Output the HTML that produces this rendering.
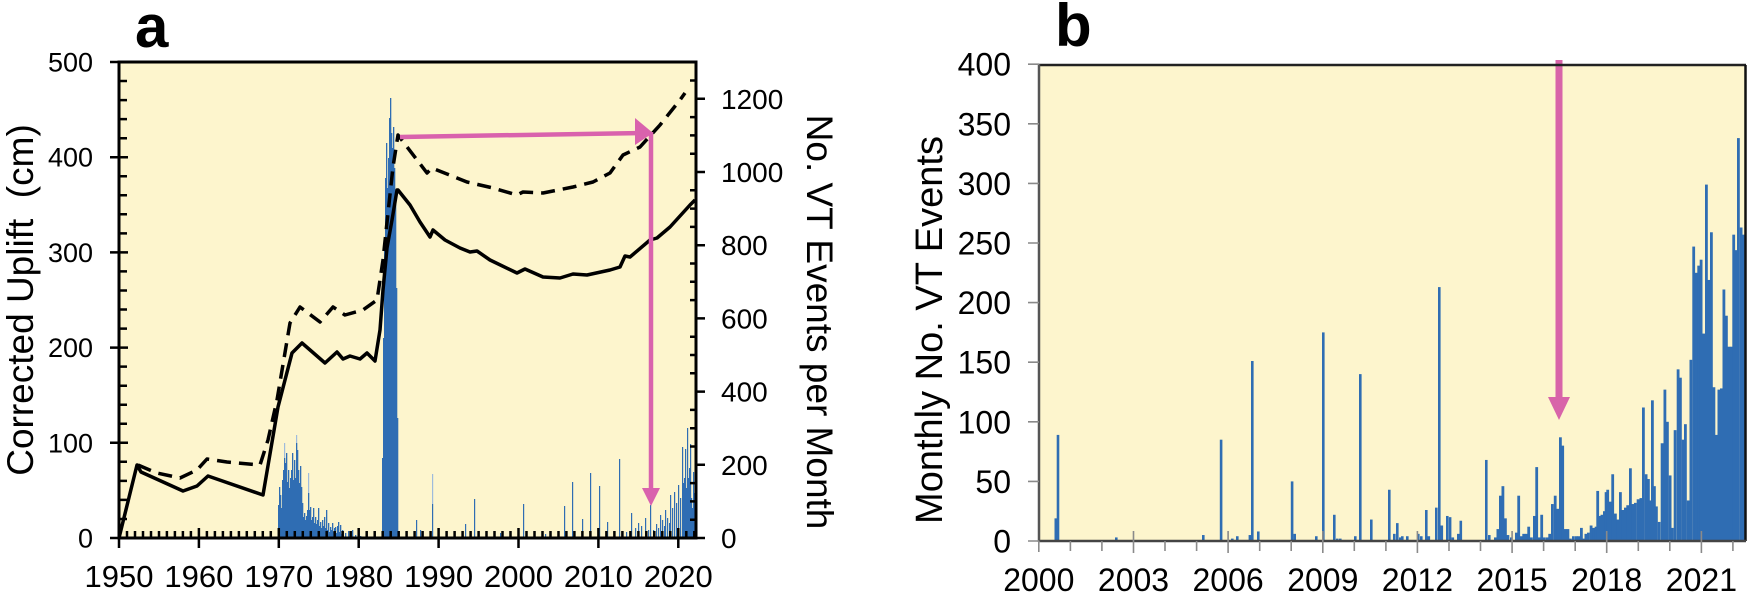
<!DOCTYPE html>
<html><head><meta charset="utf-8"><style>
html,body{margin:0;padding:0;background:#fff;}
svg{display:block;font-family:"Liberation Sans",Arial,sans-serif;}
</style></head><body>
<svg width="1748" height="593" viewBox="0 0 1748 593" xmlns="http://www.w3.org/2000/svg">
<rect width="1748" height="593" fill="#fff"/>
<!-- ============ PANEL A ============ -->
<rect x="119" y="62" width="577" height="476" fill="#fdf5cd"/>
<!-- bars 1970-1982 -->
<g transform="translate(0,538) scale(1,-1)" fill="#2f6db3">
<rect x="278" y="0" width="1.3" height="33"/><rect x="279" y="0" width="1.3" height="51"/><rect x="280" y="0" width="1.3" height="43"/><rect x="281" y="0" width="1.3" height="30"/><rect x="282" y="0" width="1.3" height="58"/><rect x="283" y="0" width="1.3" height="68"/><rect x="284" y="0" width="1.3" height="80"/><rect x="285" y="0" width="1.3" height="75"/><rect x="286" y="0" width="1.3" height="85"/><rect x="287" y="0" width="1.3" height="56"/><rect x="288" y="0" width="1.3" height="68"/><rect x="289" y="0" width="1.3" height="50"/><rect x="290" y="0" width="1.3" height="60"/><rect x="291" y="0" width="1.3" height="68"/><rect x="292" y="0" width="1.3" height="85"/><rect x="293" y="0" width="1.3" height="58"/><rect x="294" y="0" width="1.3" height="78"/><rect x="295" y="0" width="1.3" height="60"/><rect x="296" y="0" width="1.3" height="95"/><rect x="297" y="0" width="1.3" height="88"/><rect x="298" y="0" width="1.3" height="68"/><rect x="299" y="0" width="1.3" height="55"/><rect x="300" y="0" width="1.3" height="72"/><rect x="301" y="0" width="1.3" height="51"/><rect x="302" y="0" width="1.3" height="35"/><rect x="303" y="0" width="1.3" height="21"/><rect x="304" y="0" width="1.3" height="25"/><rect x="305" y="0" width="1.3" height="18"/><rect x="306" y="0" width="1.3" height="22"/><rect x="307" y="0" width="1.3" height="28"/><rect x="308" y="0" width="1.3" height="45"/><rect x="309" y="0" width="1.3" height="28"/><rect x="310" y="0" width="1.3" height="31"/><rect x="311" y="0" width="1.3" height="18"/><rect x="312" y="0" width="1.3" height="21"/><rect x="313" y="0" width="1.3" height="30"/><rect x="314" y="0" width="1.3" height="15"/><rect x="315" y="0" width="1.3" height="21"/><rect x="316" y="0" width="1.3" height="14"/><rect x="317" y="0" width="1.3" height="18"/><rect x="318" y="0" width="1.3" height="30"/><rect x="319" y="0" width="1.3" height="12"/><rect x="320" y="0" width="1.3" height="16"/><rect x="321" y="0" width="1.3" height="10"/><rect x="322" y="0" width="1.3" height="18"/><rect x="323" y="0" width="1.3" height="12"/><rect x="324" y="0" width="1.3" height="21"/><rect x="325" y="0" width="1.3" height="10"/><rect x="326" y="0" width="1.3" height="28"/><rect x="327" y="0" width="1.3" height="8"/><rect x="328" y="0" width="1.3" height="15"/><rect x="329" y="0" width="1.3" height="6"/><rect x="330" y="0" width="1.3" height="11"/><rect x="331" y="0" width="1.3" height="8"/><rect x="332" y="0" width="1.3" height="15"/><rect x="333" y="0" width="1.3" height="6"/><rect x="334" y="0" width="1.3" height="10"/><rect x="335" y="0" width="1.3" height="11"/><rect x="336" y="0" width="1.3" height="5"/><rect x="337" y="0" width="1.3" height="12"/><rect x="338" y="0" width="1.3" height="16"/><rect x="339" y="0" width="1.3" height="6"/><rect x="340" y="0" width="1.3" height="13"/><rect x="341" y="0" width="1.3" height="4"/><rect x="342" y="0" width="1.3" height="8"/><rect x="345" y="0" width="1.3" height="5"/><rect x="348" y="0" width="1.3" height="7"/><rect x="350" y="0" width="1.3" height="4"/><rect x="352" y="0" width="1.3" height="8"/><rect x="355" y="0" width="1.3" height="3"/><rect x="358" y="0" width="1.3" height="5"/><rect x="360" y="0" width="1.3" height="2"/>
<!-- 1984 spike -->
<rect x="382" y="0" width="1.3" height="80"/><rect x="383" y="0" width="1.3" height="200"/><rect x="384" y="0" width="1.3" height="300"/><rect x="385" y="0" width="1.3" height="360"/><rect x="386" y="0" width="1.3" height="395"/><rect x="387" y="0" width="1.3" height="350"/><rect x="388" y="0" width="1.3" height="380"/><rect x="389" y="0" width="1.3" height="420"/><rect x="390" y="0" width="1.3" height="440"/><rect x="391" y="0" width="1.3" height="405"/><rect x="392" y="0" width="1.3" height="390"/><rect x="393" y="0" width="1.3" height="411"/><rect x="394" y="0" width="1.3" height="370"/><rect x="395" y="0" width="1.3" height="340"/><rect x="396" y="0" width="1.3" height="250"/><rect x="397" y="0" width="1.3" height="120"/>
<!-- later -->
<rect x="416" y="0" width="1.2" height="18"/><rect x="420" y="0" width="1.2" height="8"/><rect x="432" y="0" width="1.2" height="34"/><rect x="465" y="0" width="1.2" height="14"/><rect x="474" y="0" width="1.2" height="39"/><rect x="500" y="0" width="1.2" height="5"/><rect x="523" y="0" width="1.2" height="34"/><rect x="545" y="0" width="1.2" height="4"/><rect x="564" y="0" width="1.2" height="32"/><rect x="572" y="0" width="1.2" height="56"/><rect x="582" y="0" width="1.2" height="19"/><rect x="590" y="0" width="1.2" height="65"/><rect x="599" y="0" width="1.2" height="52"/><rect x="607" y="0" width="1.2" height="16"/><rect x="619" y="0" width="1.2" height="79"/><rect x="626" y="0" width="1.2" height="6"/><rect x="631" y="0" width="1.2" height="25"/><rect x="635" y="0" width="1.2" height="10"/><rect x="638" y="0" width="1.2" height="15"/><rect x="641" y="0" width="1.2" height="12"/><rect x="645" y="0" width="1.2" height="20"/><rect x="648" y="0" width="1.2" height="8"/><rect x="650" y="0" width="1.2" height="33"/>
<rect x="653" y="0" width="1.2" height="8"/><rect x="656" y="0" width="1.2" height="14"/><rect x="658" y="0" width="1.2" height="10"/><rect x="660" y="0" width="1.2" height="23"/><rect x="662" y="0" width="1.2" height="18"/><rect x="664" y="0" width="1.2" height="12"/><rect x="665" y="0" width="1.2" height="28"/><rect x="667" y="0" width="1.2" height="20"/><rect x="669" y="0" width="1.2" height="15"/><rect x="670" y="0" width="1.2" height="43"/><rect x="672" y="0" width="1.2" height="30"/><rect x="674" y="0" width="1.2" height="46"/><rect x="676" y="0" width="1.2" height="35"/><rect x="678" y="0" width="1.2" height="53"/><rect x="680" y="0" width="1.2" height="40"/><rect x="682" y="0" width="1.2" height="91"/><rect x="683" y="0" width="1.2" height="55"/><rect x="684" y="0" width="1.2" height="60"/><rect x="685" y="0" width="1.2" height="89"/><rect x="686" y="0" width="1.2" height="50"/><rect x="687" y="0" width="1.2" height="110"/><rect x="688" y="0" width="1.2" height="60"/><rect x="689" y="0" width="1.2" height="70"/><rect x="690" y="0" width="1.2" height="94"/><rect x="691" y="0" width="1.2" height="40"/><rect x="692" y="0" width="1.2" height="30"/><rect x="693" y="0" width="1.2" height="66"/><rect x="694" y="0" width="1.2" height="45"/><rect x="695" y="0" width="1.2" height="89"/>
</g>
<g transform="translate(0,538) scale(1,-1)" fill="#9fbbdc">
<rect x="284" y="80" width="1.2" height="15"/><rect x="296" y="95" width="1.2" height="8"/><rect x="308" y="45" width="1.2" height="20"/><rect x="432" y="34" width="1.2" height="30"/><rect x="390" y="0" width="1" height="2"/>
</g>
<!-- uplift lines -->
<polyline fill="none" stroke="#000" stroke-width="3.5" stroke-linejoin="round" points="119,538 137,465 141,472 183,491 197,486 208,476 263,495 278,407 292,353 302,343 325,363 337,352 343,359 350,356 360,359 367,353 375,361 380,330 383,290 387,248 392,220 397,190 398,190 410,205 420,222 430,237 433,230 445,240 460,248 470,252 477,251 490,260 517,273 525,269 543,277 560,278 573,274 587,275 610,270 620,267 625,256 630,257 650,240 657,238 670,227 690,205 695,200"/>
<polyline fill="none" stroke="#000" stroke-width="3.5" stroke-dasharray="14 8" stroke-linejoin="round" points="138,465 145,468 157,473 180,478 197,470 207,459 227,462 260,465 268,440 277,400 290,323 300,307 320,322 333,307 345,315 363,310 377,300 383,260 388,213 393,167 398,135 427,173 432,168 467,182 493,188 517,195 523,192 543,193 573,187 593,182 610,173 623,155 640,147 660,125 680,100 685,93"/>
<!-- pink arrows -->
<line x1="400" y1="137" x2="640" y2="133" stroke="#d962ad" stroke-width="4.5"/>
<polygon points="635,118 635,145 653,133" fill="#d962ad"/>
<line x1="651" y1="132" x2="651" y2="492" stroke="#d962ad" stroke-width="4.5"/>
<polygon points="642,488 660,488 651,506" fill="#d962ad"/>
<!-- axes a -->
<rect x="119" y="62" width="577" height="476" fill="none" stroke="#000" stroke-width="3"/>
<path stroke="#000" stroke-width="2.5" fill="none" d="M127,538v-7M135,538v-7M143,538v-7M151,538v-7M159,538v-7M166.9,538v-7M174.9,538v-7M182.9,538v-7M190.9,538v-7M206.9,538v-7M214.9,538v-7M222.9,538v-7M230.9,538v-7M238.9,538v-7M246.8,538v-7M254.8,538v-7M262.8,538v-7M270.8,538v-7M286.8,538v-7M294.8,538v-7M302.8,538v-7M310.8,538v-7M318.8,538v-7M326.7,538v-7M334.7,538v-7M342.7,538v-7M350.7,538v-7M366.7,538v-7M374.7,538v-7M382.7,538v-7M390.7,538v-7M398.7,538v-7M406.6,538v-7M414.6,538v-7M422.6,538v-7M430.6,538v-7M446.6,538v-7M454.6,538v-7M462.6,538v-7M470.6,538v-7M478.6,538v-7M486.5,538v-7M494.5,538v-7M502.5,538v-7M510.5,538v-7M526.5,538v-7M534.5,538v-7M542.5,538v-7M550.5,538v-7M558.5,538v-7M566.4,538v-7M574.4,538v-7M582.4,538v-7M590.4,538v-7M606.4,538v-7M614.4,538v-7M622.4,538v-7M630.4,538v-7M638.4,538v-7M646.3,538v-7M654.3,538v-7M662.3,538v-7M670.3,538v-7M686.3,538v-7M694.3,538v-7
M119,528v20M198.9,528v20M278.8,528v20M358.7,528v20M438.6,528v20M518.5,528v20M598.4,528v20M678.3,528v20
M110,538h18M110,442.8h18M110,347.6h18M110,252.4h18M110,157.2h18M110,62h18
M119,519h8M119,499.9h8M119,480.9h8M119,461.8h8M119,423.8h8M119,404.7h8M119,385.7h8M119,366.6h8M119,328.6h8M119,309.5h8M119,290.5h8M119,271.4h8M119,233.4h8M119,214.3h8M119,195.3h8M119,176.2h8M119,138.2h8M119,119.1h8M119,100.1h8M119,81h8
M696,538h9M696,464.8h9M696,391.6h9M696,318.4h9M696,245.2h9M696,172h9M696,98.8h9
M690,519.7h6M690,501.4h6M690,483.1h6M690,446.5h6M690,428.2h6M690,409.9h6M690,373.3h6M690,355h6M690,336.7h6M690,300.1h6M690,281.8h6M690,263.5h6M690,226.9h6M690,208.6h6M690,190.3h6M690,153.7h6M690,135.4h6M690,117.1h6M690,80.5h6"/>
<g font-size="27" text-anchor="end" fill="#000">
<text x="93" y="547.5">0</text><text x="93" y="452.3">100</text><text x="93" y="357.1">200</text><text x="93" y="261.9">300</text><text x="93" y="166.7">400</text><text x="93" y="71.5">500</text>
</g>
<g font-size="28" text-anchor="start" fill="#000">
<text x="721" y="548">0</text><text x="721" y="474.8">200</text><text x="721" y="401.6">400</text><text x="721" y="328.4">600</text><text x="721" y="255.2">800</text><text x="721" y="182">1000</text><text x="721" y="108.8">1200</text>
</g>
<g font-size="31" text-anchor="middle" fill="#000">
<text x="119" y="587">1950</text><text x="198.9" y="587">1960</text><text x="278.8" y="587">1970</text><text x="358.7" y="587">1980</text><text x="438.6" y="587">1990</text><text x="518.5" y="587">2000</text><text x="598.4" y="587">2010</text><text x="678.3" y="587">2020</text>
</g>
<text x="135" y="47" font-size="60" font-weight="bold">a</text>
<text transform="translate(33,300) rotate(-90)" text-anchor="middle" font-size="37" style="white-space:pre">Corrected Uplift  (cm)</text>
<text transform="translate(807,322) rotate(90)" text-anchor="middle" font-size="37">No. VT Events per Month</text>

<!-- ============ PANEL B ============ -->
<rect x="1039" y="65" width="706" height="476" fill="#fdf5cd"/>
<g transform="translate(0,541) scale(1,-1.192)" fill="#2f6db3">
<rect x="1054.5" y="0" width="2.8" height="19"/><rect x="1056.7" y="0" width="2.6" height="89"/><rect x="1115" y="0" width="2.6" height="3"/><rect x="1202" y="0" width="2.6" height="5"/><rect x="1219.8" y="0" width="2.6" height="85"/><rect x="1231" y="0" width="2.6" height="2"/><rect x="1236" y="0" width="2.6" height="4"/><rect x="1248.6" y="0" width="2.6" height="5"/><rect x="1251" y="0" width="2.6" height="151"/><rect x="1257" y="0" width="2.6" height="8"/><rect x="1290.8" y="0" width="2.6" height="50"/><rect x="1293.4" y="0" width="2.6" height="6"/><rect x="1315" y="0" width="2.6" height="4"/><rect x="1322" y="0" width="2.6" height="175"/><rect x="1333" y="0" width="2.6" height="22"/><rect x="1336" y="0" width="2.6" height="2"/><rect x="1339" y="0" width="2.6" height="2"/><rect x="1354" y="0" width="2.6" height="4"/><rect x="1359" y="0" width="2.6" height="140"/><rect x="1370" y="0" width="2.6" height="18"/><rect x="1388" y="0" width="2.6" height="43"/><rect x="1393" y="0" width="2.6" height="6"/><rect x="1396" y="0" width="2.6" height="15"/><rect x="1399" y="0" width="2.6" height="3"/><rect x="1401" y="0" width="2.6" height="4"/><rect x="1406" y="0" width="2.6" height="4"/><rect x="1417" y="0" width="2.6" height="6"/><rect x="1420" y="0" width="2.6" height="4"/><rect x="1425" y="0" width="2.6" height="26"/><rect x="1427.5" y="0" width="2.6" height="4"/><rect x="1435" y="0" width="2.6" height="28"/><rect x="1438" y="0" width="2.6" height="213"/><rect x="1440.5" y="0" width="2.6" height="13"/><rect x="1446" y="0" width="2.6" height="21"/><rect x="1448.8" y="0" width="2.6" height="20"/><rect x="1451.5" y="0" width="2.6" height="3"/><rect x="1457" y="0" width="2.6" height="6"/><rect x="1459.5" y="0" width="2.6" height="17"/>
<rect x="1485" y="0" width="2.6" height="68"/><rect x="1488" y="0" width="2.6" height="5"/><rect x="1494" y="0" width="2.6" height="3"/><rect x="1496.5" y="0" width="2.8" height="10"/><rect x="1499" y="0" width="2.8" height="38"/><rect x="1501.5" y="0" width="2.8" height="46"/><rect x="1504" y="0" width="2.8" height="19"/><rect x="1506.5" y="0" width="2.8" height="5"/><rect x="1510" y="0" width="2.6" height="3"/><rect x="1515" y="0" width="2.8" height="7"/><rect x="1517.3" y="0" width="2.8" height="38"/><rect x="1519.7" y="0" width="2.8" height="4"/><rect x="1522.3" y="0" width="2.8" height="6"/><rect x="1525" y="0" width="2.8" height="6"/><rect x="1527.3" y="0" width="2.8" height="12"/><rect x="1530" y="0" width="2.8" height="3"/><rect x="1533" y="0" width="2.8" height="21"/><rect x="1535.3" y="0" width="2.8" height="62"/><rect x="1538" y="0" width="2.8" height="3"/><rect x="1540.3" y="0" width="2.8" height="22"/><rect x="1543" y="0" width="2.8" height="3"/><rect x="1546" y="0" width="2.8" height="3"/><rect x="1548.3" y="0" width="2.8" height="6"/><rect x="1551" y="0" width="2.8" height="31"/><rect x="1553.8" y="0" width="2.8" height="38"/><rect x="1556.3" y="0" width="2.8" height="27"/><rect x="1559" y="0" width="2.8" height="87"/><rect x="1561.3" y="0" width="2.8" height="80"/><rect x="1564" y="0" width="2.8" height="10"/><rect x="1566.5" y="0" width="2.8" height="10"/><rect x="1569" y="0" width="2.8" height="2"/><rect x="1572" y="0" width="2.8" height="4"/><rect x="1575" y="0" width="2.8" height="4"/><rect x="1577.3" y="0" width="2.8" height="4"/><rect x="1580" y="0" width="2.8" height="11"/><rect x="1582.3" y="0" width="2.8" height="2"/><rect x="1584.5" y="0" width="2.8" height="6"/><rect x="1587" y="0" width="2.8" height="7"/><rect x="1589.7" y="0" width="2.8" height="13"/><rect x="1592.3" y="0" width="2.8" height="11"/><rect x="1594.7" y="0" width="2.8" height="12"/><rect x="1596.3" y="0" width="2.8" height="42"/><rect x="1598.5" y="0" width="2.8" height="21"/><rect x="1600.5" y="0" width="2.8" height="22"/><rect x="1603" y="0" width="2.8" height="25"/><rect x="1604.7" y="0" width="2.8" height="41"/><rect x="1606.3" y="0" width="2.8" height="43"/><rect x="1609" y="0" width="2.8" height="33"/><rect x="1611.3" y="0" width="2.8" height="56"/><rect x="1614" y="0" width="2.8" height="23"/><rect x="1616.3" y="0" width="2.8" height="18"/><rect x="1619" y="0" width="2.8" height="41"/><rect x="1621.3" y="0" width="2.8" height="26"/><rect x="1624" y="0" width="2.8" height="28"/><rect x="1626.3" y="0" width="2.8" height="30"/><rect x="1629" y="0" width="2.8" height="61"/><rect x="1631.3" y="0" width="2.8" height="31"/><rect x="1634" y="0" width="2.8" height="32"/><rect x="1636.7" y="0" width="2.8" height="35"/><rect x="1639.5" y="0" width="2.8" height="36"/><rect x="1642" y="0" width="2.8" height="112"/><rect x="1644.7" y="0" width="2.8" height="56"/><rect x="1647" y="0" width="2.8" height="52"/><rect x="1649" y="0" width="2.8" height="34"/><rect x="1651" y="0" width="2.8" height="118"/><rect x="1653" y="0" width="2.8" height="46"/><rect x="1655" y="0" width="2.8" height="29"/><rect x="1657.7" y="0" width="2.8" height="16"/><rect x="1660.7" y="0" width="2.8" height="82"/><rect x="1663.5" y="0" width="2.8" height="127"/><rect x="1666" y="0" width="2.8" height="100"/><rect x="1668.7" y="0" width="2.8" height="55"/><rect x="1671" y="0" width="2.8" height="11"/><rect x="1673.7" y="0" width="2.8" height="93"/><rect x="1676.7" y="0" width="2.8" height="144"/><rect x="1679" y="0" width="2.8" height="137"/><rect x="1681.7" y="0" width="2.8" height="85"/><rect x="1684" y="0" width="2.8" height="98"/><rect x="1686.7" y="0" width="2.8" height="34"/><rect x="1689.5" y="0" width="2.8" height="152"/><rect x="1692.3" y="0" width="2.8" height="247"/><rect x="1694.7" y="0" width="2.8" height="225"/><rect x="1697.3" y="0" width="2.8" height="231"/><rect x="1699.7" y="0" width="2.8" height="236"/><rect x="1702.5" y="0" width="2.8" height="174"/><rect x="1705" y="0" width="2.8" height="299"/><rect x="1707.5" y="0" width="2.8" height="219"/><rect x="1710" y="0" width="2.8" height="259"/><rect x="1712.5" y="0" width="2.8" height="129"/><rect x="1715" y="0" width="2.8" height="89"/><rect x="1717.5" y="0" width="2.8" height="127"/><rect x="1720" y="0" width="2.8" height="128"/><rect x="1722.5" y="0" width="2.8" height="211"/><rect x="1725" y="0" width="2.8" height="189"/><rect x="1727.5" y="0" width="2.8" height="163"/><rect x="1730" y="0" width="2.8" height="163"/><rect x="1732.3" y="0" width="2.8" height="257"/><rect x="1734.5" y="0" width="2.8" height="244"/><rect x="1737" y="0" width="2.8" height="338"/><rect x="1739.7" y="0" width="2.8" height="263"/><rect x="1742" y="0" width="3" height="257"/>
</g>
<!-- pink arrow b -->
<line x1="1559" y1="60" x2="1559" y2="400" stroke="#d864a9" stroke-width="7"/>
<polygon points="1548,397 1570,397 1559,420" fill="#d864a9"/>
<!-- axes b -->
<line x1="1039" y1="65" x2="1746" y2="65" stroke="#222" stroke-width="2.5"/>
<line x1="1745.5" y1="65" x2="1745.5" y2="541" stroke="#111" stroke-width="2.5"/>
<line x1="1039" y1="541" x2="1746" y2="541" stroke="#444" stroke-width="2.5"/>
<line x1="1039" y1="64" x2="1039" y2="542" stroke="#555" stroke-width="2.5"/>
<path stroke="#8a8a8a" stroke-width="1.6" fill="none" d="M1028,541h11M1028,481.4h11M1028,421.8h11M1028,362.2h11M1028,302.6h11M1028,243h11M1028,183.4h11M1028,123.8h11M1028,64.2h11
M1038.8,541v11M1070.4,541v10M1101.9,541v10M1133.5,531v22M1165,541v10M1196.6,541v10M1228.1,531v22M1259.7,541v10M1291.2,541v10M1322.8,531v22M1354.3,541v10M1385.9,541v10M1417.4,531v22M1449,541v10M1480.5,541v10M1512.1,531v22M1543.6,541v10M1575.2,541v10M1606.7,531v22M1638.3,541v10M1669.8,541v10M1701.4,531v22M1732.9,541v10"/>
<g font-size="32" text-anchor="end" fill="#000">
<text x="1011" y="552.5">0</text><text x="1011" y="492.9">50</text><text x="1011" y="433.3">100</text><text x="1011" y="373.7">150</text><text x="1011" y="314.1">200</text><text x="1011" y="254.5">250</text><text x="1011" y="194.9">300</text><text x="1011" y="135.3">350</text><text x="1011" y="75.7">400</text>
</g>
<g font-size="32" text-anchor="middle" fill="#000">
<text x="1038.8" y="591">2000</text><text x="1133.5" y="591">2003</text><text x="1228.1" y="591">2006</text><text x="1322.8" y="591">2009</text><text x="1417.4" y="591">2012</text><text x="1512.1" y="591">2015</text><text x="1606.7" y="591">2018</text><text x="1701.4" y="591">2021</text>
</g>
<text x="1055" y="46" font-size="60" font-weight="bold">b</text>
<text transform="translate(942,330) rotate(-90)" text-anchor="middle" font-size="38">Monthly No. VT Events</text>
</svg>
</body></html>
